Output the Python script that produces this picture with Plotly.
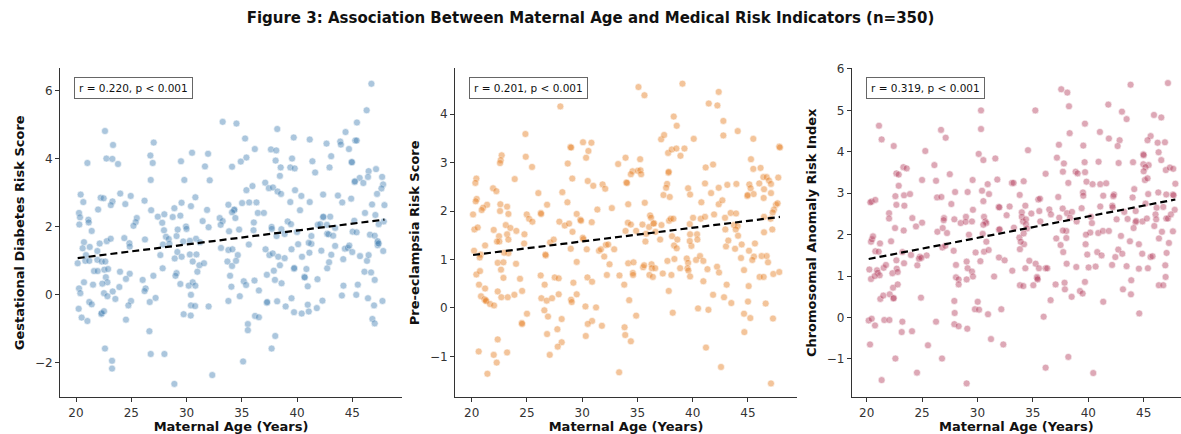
import numpy as np
import plotly.graph_objects as go

# ---------------- data ----------------
age_gdm = [22.62,27.03,23.35,22.75,23.29,21.03,23.80,26.73,26.94,26.76,29.50,30.50,31.95,31.67,29.80,32.10,
 20.42,20.66,22.23,22.50,23.30,23.15,24.00,24.46,24.95,26.20,26.80,27.40,27.99,27.80,28.90,29.55,30.40,30.80,31.86,
 20.27,20.36,20.30,21.12,21.15,21.42,22.00,25.50,25.40,25.20,28.75,29.44,27.96,28.14,29.10,29.20,29.95,30.00,31.46,32.00,30.86,30.30,
 20.72,20.60,21.24,22.14,22.78,23.14,24.37,24.83,24.86,26.24,27.87,28.39,28.45,29.70,31.22,21.93,27.63,29.17,30.30,30.90,20.90,
 20.15,20.84,21.20,21.93,22.32,22.65,28.93,29.56,30.56,31.16,31.58,30.98,27.84,21.63,21.96,22.56,22.90,22.70,22.84,22.38,20.72,21.54,
 23.98,24.86,24.52,23.92,23.32,22.53,22.84,23.56,20.27,20.39,20.24,20.51,21.03,21.20,21.42,22.29,22.32,22.53,27.00,26.03,26.30,26.20,
 27.20,26.67,24.98,24.74,24.52,26.64,26.76,28.00,22.62,23.26,23.26,28.90,29.10,29.00,29.44,30.20,30.56,30.80,30.40,30.40,30.78,29.74,30.38,32.00,
 33.12,33.79,34.15,34.64,33.70,34.12,34.48,33.94,34.06,33.79,34.82,35.18,35.39,36.15,36.55,36.20,36.55,35.55,35.55,35.12,32.33,35.64,
 37.15,37.50,37.80,38.30,38.88,39.50,40.10,40.45,41.12,41.30,42.20,43.10,43.45,44.18,44.33,44.60,44.73,45.00,45.70,46.33,46.48,47.30,47.30,
 37.27,37.90,38.45,38.00,38.60,37.27,37.30,38.20,38.97,39.50,39.73,40.42,41.06,40.97,41.79,42.30,39.73,39.75,40.67,40.70,40.85,40.97,41.85,
 42.73,42.90,44.20,44.06,45.50,45.36,46.10,46.70,47.03,46.42,46.97,47.73,46.82,47.03,38.03,37.70,
 46.73,46.30,33.27,34.52,45.42,38.21,44.39,35.30,39.70,41.15,42.67,43.91,43.97,45.27,45.40,44.70,36.18,37.64,38.12,35.42,34.91,34.12,
 38.06,39.55,41.39,43.09,44.94,44.97,38.52,39.39,39.79,42.94,41.64,38.45,46.48,47.15,45.67,45.21,45.24,46.00,46.42,47.70,47.79,47.64,
 37.12,37.45,37.82,38.24,38.55,35.97,35.42,39.82,40.39,42.36,43.70,44.09,44.90,47.24,47.91,46.79,39.39,41.15,40.27,33.79,35.03,35.67,
 36.33,34.30,34.33,34.12,34.42,36.45,37.00,46.15,47.09,47.85,47.39,33.00,33.27,33.09,36.09,39.15,39.45,42.36,42.38,43.00,45.18,41.88,
 42.10,42.70,43.45,37.70,37.72,33.85,34.76,36.06,38.58,40.00,41.30,42.73,42.85,43.27,45.03,45.39,46.60,47.03,47.30,47.39,38.15,38.88,
 41.06,47.80]
score_gdm = [4.81,4.47,4.40,4.00,3.99,3.87,3.84,4.09,3.87,3.37,3.92,4.17,4.14,3.77,3.37,3.36,
 2.94,2.72,2.85,2.83,2.74,2.63,2.97,2.66,2.90,2.76,2.48,2.29,2.36,2.11,2.54,2.70,2.60,2.86,2.49,
 2.40,2.27,2.06,2.20,2.12,1.87,2.50,2.25,2.13,2.02,2.28,2.32,1.89,1.70,1.72,1.91,2.00,1.93,2.16,1.98,1.64,1.58,
 1.54,1.36,1.40,1.50,1.57,1.64,1.66,1.51,1.41,1.62,1.47,1.63,1.49,1.56,1.54,1.28,1.16,1.25,1.18,1.18,1.16,
 0.92,0.99,0.99,1.02,0.97,0.97,1.06,1.11,0.97,0.86,0.92,0.67,0.77,0.69,0.69,0.73,0.75,0.51,0.36,0.32,0.36,0.29,
 0.67,0.61,0.46,0.22,0.09,0.04,-0.05,-0.13,0.18,0.04,-0.42,-0.68,-0.78,-0.22,-0.29,-0.57,-0.55,-0.49,0.55,0.43,0.18,0.10,
 -0.10,-0.22,-0.19,-0.32,-0.74,-1.08,-1.75,-1.75,-1.59,-1.95,-2.18,-2.63,0.63,0.55,0.31,0.26,0.36,0.26,-0.01,-0.32,-0.34,-0.58,-0.62,-0.35,
 1.37,1.31,1.33,1.16,0.97,0.84,0.99,0.55,0.23,-0.19,-0.05,0.39,0.28,0.41,0.12,-0.63,-0.67,-0.87,-1.05,-1.97,-2.37,1.47,
 1.33,1.16,1.21,1.11,1.07,1.33,1.48,1.11,1.23,1.49,1.29,1.17,1.43,1.04,1.35,1.37,1.44,1.25,1.13,0.99,1.16,1.45,1.52,
 0.58,0.70,0.86,0.43,0.33,-0.24,-0.22,-0.20,-0.35,-0.11,-0.52,-0.56,-0.50,-0.30,-0.40,-0.18,0.76,0.78,0.52,0.50,0.75,0.24,0.45,
 0.77,0.95,0.26,-0.03,0.29,-0.01,0.67,0.65,0.43,-0.11,-0.32,-0.19,-0.72,-0.85,-1.22,-1.59,
 6.20,5.42,5.08,5.03,5.06,4.87,4.78,4.59,4.62,4.56,4.44,4.50,4.41,4.53,4.53,4.28,4.28,4.27,4.24,4.03,3.91,3.76,
 3.94,4.00,3.92,4.07,3.90,3.89,3.74,3.74,3.71,3.74,3.59,3.49,3.63,3.69,3.43,3.31,3.33,3.28,3.46,3.46,3.24,3.12,
 3.29,3.13,3.15,3.03,2.96,3.19,3.07,3.07,2.90,2.94,2.91,2.71,2.82,2.96,2.63,2.65,2.72,2.72,2.48,2.64,2.69,2.71,
 2.71,2.48,2.50,2.42,2.25,2.40,2.40,2.40,2.34,2.15,2.07,2.25,2.16,2.05,2.12,2.15,2.07,2.27,2.29,2.29,2.17,2.05,
 2.07,2.05,1.96,1.99,1.93,1.86,1.91,1.89,1.92,1.84,1.72,1.79,1.77,1.73,1.85,1.83,1.76,1.73,1.57,1.50,1.72,1.78,
 1.52,1.28]

age_pe = [28.02,24.86,30.07,30.83,28.93,29.00,30.56,30.35,22.71,22.62,22.56,24.89,25.46,28.69,20.42,20.33,23.89,29.10,30.50,31.00,
 21.93,22.23,28.20,26.03,20.45,20.36,21.39,21.03,20.90,22.59,23.20,26.82,28.66,31.37,20.12,22.56,23.32,24.98,25.19,25.49,26.25,26.28,
 29.50,29.83,30.86,20.24,20.54,21.99,22.47,22.50,23.08,23.50,23.20,24.04,24.77,24.74,23.32,22.29,21.21,20.21,27.09,27.93,28.42,28.81,
 29.12,29.89,30.05,30.10,28.96,30.41,31.52,26.70,27.42,20.81,
 20.72,22.35,22.87,22.65,22.87,23.32,22.93,22.35,22.68,23.26,23.86,24.01,24.37,24.56,20.42,20.75,20.66,21.21,20.84,21.15,21.27,21.30,
 21.66,22.02,25.00,24.53,24.56,22.35,20.63,21.99,22.26,21.42,23.20,26.24,26.60,26.67,27.51,27.87,26.30,26.79,27.27,27.87,26.57,26.90,
 28.14,27.75,26.82,28.14,27.78,27.06,29.50,29.20,29.50,28.99,29.05,30.29,30.47,30.89,31.25,30.89,30.50,30.32,
 31.78,31.69,31.99,32.23,32.47,32.89,33.37,33.80,34.25,34.16,34.64,34.58,34.60,34.88,33.83,33.89,34.40,33.34,35.51,35.60,36.08,36.27,
 36.30,36.39,36.60,37.29,37.71,38.07,37.83,38.19,38.34,38.31,38.55,38.86,39.46,39.58,39.52,39.61,39.76,39.88,40.30,40.66,40.96,41.33,
 40.96,40.48,41.42,41.20,42.56,41.84,42.20,42.38,43.07,42.83,43.49,43.01,43.83,44.37,44.64,45.09,45.54,45.39,45.06,45.00,44.64,45.21,
 44.67,46.05,46.42,46.23,46.69,46.81,47.29,47.83,46.60,47.26,47.08,45.63,44.43,
 35.09,35.63,39.07,42.35,41.45,42.23,38.28,38.55,42.77,42.77,44.07,37.14,37.41,40.09,45.48,37.77,38.10,38.52,39.25,38.89,47.83,47.89,
 33.92,35.24,33.25,34.55,34.40,35.03,35.27,35.33,37.80,37.83,41.17,41.84,45.27,45.48,46.14,46.39,46.69,46.90,47.08,47.74,33.99,34.05,
 31.84,32.08,37.68,37.59,37.35,37.92,39.58,39.76,41.11,41.66,42.35,43.13,43.95,45.12,45.24,45.51,44.94,44.97,46.02,46.45,46.42,47.08,
 47.53,47.68,47.35,47.23,34.16,35.66,32.68,40.78,42.35,42.68,36.14,36.23,36.50,37.86,38.01,38.25,40.03,40.72,41.11,41.93,42.92,43.43,
 43.92,46.45,47.05,34.13,34.40,35.45,36.05,36.45,37.17,39.73,42.95,43.73,44.07,33.92,34.88,35.78,36.63,39.76,40.39,43.89,44.10,46.45,
 47.20,35.72,37.05,38.13,38.61,39.73,40.42,43.22,32.14,32.35]
score_pe = [4.16,3.59,3.42,3.41,3.32,3.31,3.24,3.10,3.15,3.05,2.99,3.12,2.91,2.98,2.67,2.58,2.66,2.67,2.62,2.52,
 2.47,2.41,2.39,2.37,2.25,2.20,2.13,2.07,2.02,2.14,2.09,2.13,2.18,2.03,1.93,2.00,1.94,1.93,1.84,1.78,1.96,1.94,
 1.94,1.82,1.77,1.62,1.66,1.61,1.48,1.37,1.71,1.65,1.52,1.59,1.52,1.33,1.41,1.37,1.29,1.18,1.35,1.78,1.70,1.74,
 1.57,1.80,1.45,1.42,1.22,1.21,1.18,1.08,1.41,1.10,
 1.04,0.93,0.94,0.79,0.62,1.13,1.14,0.34,0.22,0.22,0.27,0.91,0.60,0.35,0.69,0.76,0.48,0.40,0.24,0.18,0.16,0.14,
 0.08,0.05,-0.12,-0.31,-0.33,-0.65,-0.90,-0.97,-1.13,-1.36,-0.92,0.67,0.48,1.10,0.63,0.61,0.20,0.15,0.20,0.28,-0.05,-0.18,
 -0.23,-0.44,-0.54,-0.71,-0.80,-0.97,0.95,0.52,0.28,0.17,0.12,0.03,0.63,0.54,0.01,-0.27,-0.33,-0.58,
 -0.37,1.21,1.06,0.68,0.90,1.21,0.67,0.48,0.16,0.92,0.94,0.72,0.68,-0.16,-0.40,-0.56,-0.69,-1.33,0.84,0.88,0.68,0.90,
 0.82,0.64,0.82,0.71,0.97,0.68,0.35,-0.10,1.01,1.29,1.23,0.82,1.02,0.93,0.82,0.77,0.65,1.28,0.99,1.07,0.97,0.80,
 0.55,-0.01,-0.04,-0.82,-1.22,0.27,0.85,0.73,0.48,0.22,0.10,1.27,1.22,1.03,0.78,1.18,1.06,0.99,0.45,0.13,-0.12,-0.21,
 -0.50,0.64,0.64,1.07,1.07,0.94,0.70,0.74,0.09,-0.22,-1.56,1.33,1.31,
 4.56,4.39,4.63,4.46,4.22,4.18,3.95,3.76,3.86,3.56,3.65,3.48,3.57,3.49,3.49,3.20,3.27,3.29,3.29,3.14,3.33,3.31,
 3.10,3.07,2.97,2.82,2.76,2.83,2.84,2.76,2.79,2.81,2.90,2.96,3.07,2.87,2.89,2.70,2.70,2.63,2.56,2.69,2.59,2.58,
 2.55,2.46,2.56,2.48,2.33,2.29,2.47,2.34,2.57,2.37,2.48,2.54,2.56,2.55,2.47,2.35,2.31,2.33,2.57,2.45,2.27,2.37,
 2.13,2.16,2.03,1.97,2.14,2.17,2.06,2.18,2.14,2.22,1.91,1.86,1.75,1.80,1.84,1.84,1.86,1.84,1.88,1.93,1.86,1.96,
 1.95,1.88,1.84,1.76,1.72,1.72,1.67,1.74,1.71,1.73,1.62,1.71,1.69,1.59,1.59,1.53,1.57,1.52,1.52,1.62,1.49,1.56,
 1.62,1.37,1.41,1.48,1.41,1.38,1.41,1.39,1.30,1.31]

age_chr = [30.32,30.32,21.11,21.35,26.71,27.13,22.44,25.29,30.11,30.53,31.61,26.11,23.31,23.61,22.68,22.89,27.50,22.89,25.00,26.26,
 29.56,30.92,31.79,27.98,29.11,30.41,31.04,20.45,20.33,20.78,22.59,23.37,23.91,22.68,23.40,26.35,26.74,27.64,30.53,31.91,22.02,22.02,
 24.12,26.98,26.95,25.00,27.91,28.96,28.48,28.93,29.50,29.59,30.59,30.71,30.80,30.53,22.56,23.34,24.45,26.38,27.25,26.86,29.23,30.47,
 31.94,20.39,20.48,20.57,21.20,22.20,20.78,21.08,26.83,27.10,27.85,29.83,30.59,30.80,31.01,24.00,24.81,25.41,
 20.24,20.39,20.93,21.00,21.17,20.72,21.53,21.74,22.32,22.71,22.80,22.68,23.37,23.22,24.57,24.72,24.93,22.38,22.80,21.23,21.50,22.08,
 22.41,22.44,24.90,20.18,20.45,20.75,21.59,22.05,23.22,23.16,24.09,26.26,20.30,25.53,22.59,26.80,24.54,21.35,29.02,28.06,28.06,28.30,
 28.30,29.02,29.11,29.50,29.02,29.59,30.26,27.91,30.02,29.77,30.14,27.94,30.95,32.15,27.91,28.30,29.08,31.22,32.33,31.50,31.94,32.45,
 33.14,33.83,34.14,34.32,34.68,35.04,35.25,35.37,35.40,35.43,35.55,36.15,36.30,36.60,35.97,36.15,37.05,37.86,37.89,38.05,38.92,38.50,
 39.25,39.49,39.70,39.91,40.03,40.66,40.81,41.20,41.35,40.45,38.20,42.15,42.44,42.71,43.07,43.13,43.46,43.88,43.85,44.57,44.60,44.87,
 45.38,45.62,46.37,46.77,46.95,46.98,47.07,47.28,44.57,33.83,34.20,37.50,37.74,
 47.19,43.82,37.56,38.11,41.81,43.04,35.22,38.26,43.46,45.93,46.59,39.70,38.32,41.05,41.86,42.83,42.65,45.63,45.35,46.26,46.92,37.35,
 39.55,34.56,37.17,37.80,39.67,40.93,42.74,44.04,44.97,45.00,44.97,45.45,45.17,46.35,46.59,47.00,47.37,47.67,45.00,36.15,37.71,38.86,
 39.04,39.71,33.11,33.26,34.17,38.20,39.84,40.39,41.08,41.62,45.11,45.35,47.86,33.81,35.49,35.64,37.29,39.52,39.55,41.35,42.32,42.26,
 44.00,44.15,45.41,46.32,47.04,47.64,47.70,31.98,32.90,34.32,34.00,35.58,36.48,37.69,39.40,41.08,42.17,42.20,43.25,44.28,45.17,46.17,
 46.77,47.80,32.63,34.00,34.86,36.63,38.08,38.53,34.11,34.38,34.38,35.67,37.38,38.35,38.95,40.24,40.33,42.56,43.55,44.27,44.32,44.89,
 45.29,46.07,46.13,47.04,47.19,47.46,32.00,33.29,34.47,38.02,37.71,40.18,40.90,41.32,41.86,42.95,44.09,45.96,46.65,47.64,33.78,34.17,
 33.90,37.11,38.02,39.79,39.76,43.76,46.38,45.80]
score_chr = [5.00,4.55,4.63,4.30,4.53,4.34,4.14,4.02,3.95,3.80,3.84,3.68,3.63,3.60,3.48,3.45,3.46,3.18,3.32,3.30,
 3.32,3.22,3.33,3.03,3.03,3.06,2.98,2.80,2.78,2.84,2.93,2.95,2.98,2.72,2.70,2.90,2.91,2.74,2.81,2.67,2.52,2.39,
 2.40,2.40,2.35,2.29,2.37,2.43,2.28,2.31,2.32,2.60,2.43,2.32,2.28,2.24,2.16,2.10,2.20,2.07,2.04,2.16,2.00,2.02,
 2.12,1.83,1.89,1.96,1.79,1.84,1.60,1.59,1.69,1.73,1.61,1.57,1.59,1.83,1.63,1.51,1.47,1.50,
 1.16,0.93,1.14,1.08,1.02,1.00,1.20,1.27,1.07,1.18,1.10,1.38,1.31,1.58,1.26,1.42,1.44,0.72,0.80,0.45,0.53,0.56,
 0.46,0.47,0.48,-0.07,-0.03,-0.19,-0.06,-0.06,-0.10,-0.35,-0.33,-0.10,-0.65,-0.67,-0.99,-0.99,-1.33,-1.51,-1.59,1.27,0.97,0.92,
 0.80,1.35,1.19,1.11,0.92,0.99,1.36,0.40,0.38,0.20,0.19,0.11,0.08,0.20,-0.16,-0.21,-0.27,-0.52,-0.65,0.99,1.45,1.38,
 1.13,0.78,0.76,1.19,1.37,0.78,1.30,0.98,0.95,0.92,1.19,1.19,1.19,0.42,0.02,-1.21,0.80,0.84,0.68,1.30,1.22,0.50,
 0.64,0.58,0.86,1.52,1.21,1.23,1.58,1.50,0.38,-1.34,-0.95,1.27,1.46,1.64,1.54,0.68,1.24,0.90,0.56,1.18,0.10,1.54,
 1.19,1.46,0.78,0.78,1.26,0.98,1.56,1.80,1.77,1.65,1.77,1.75,1.58,
 5.66,5.62,5.51,5.43,5.14,4.97,5.00,5.10,4.79,4.89,4.83,4.68,4.45,4.48,4.32,4.28,4.14,4.38,4.28,4.22,4.23,4.17,
 4.15,4.04,3.86,3.72,3.75,3.76,3.73,3.75,3.94,3.92,3.70,3.68,3.63,3.99,3.80,3.56,3.62,3.59,3.53,3.47,3.52,3.52,
 3.48,3.51,3.25,3.25,3.29,3.25,3.28,3.22,3.22,3.24,3.32,3.36,3.23,2.96,2.85,2.87,2.91,3.02,2.94,2.94,2.97,2.93,
 2.90,3.10,2.98,3.02,2.97,2.97,2.95,2.66,2.68,2.70,2.54,2.57,2.61,2.63,2.64,2.68,2.70,2.66,2.55,2.57,2.75,2.65,
 2.67,2.60,2.47,2.43,2.51,2.49,2.52,2.55,2.32,2.37,2.25,2.32,2.41,2.41,2.32,2.43,2.28,2.37,2.38,2.30,2.33,2.32,
 2.39,2.49,2.37,2.39,2.39,2.49,2.13,2.17,2.15,2.09,2.10,2.05,2.04,2.09,2.09,1.97,2.16,2.21,2.07,2.08,1.93,2.03,
 1.83,1.91,1.92,2.00,1.77,1.84,1.91,1.48]

titles_y = ["Gestational Diabetes Risk Score", "Pre-eclampsia Risk Score", "Chromosomal Anomaly Risk Index"]
stat_labels = ["r = 0.220, p < 0.001", "r = 0.201, p < 0.001", "r = 0.319, p < 0.001"]
colors = ["#4682B4", "#E67E22", "#B5405F"]
x_ticks = [20, 25, 30, 35, 40, 45]
y_ticks = [[-2, 0, 2, 4, 6], [-1, 0, 1, 2, 3, 4], [-1, 0, 1, 2, 3, 4, 5, 6]]
y_ranges = [[-3.03, 6.66], [-1.85, 4.95], [-1.93, 6.02]]
x_ranges = [[18.55, 49.5], [18.49, 49.44], [18.65, 48.37]]
x_domains = [[0.0508, 0.3404], [0.3853, 0.6749], [0.7212, 1.0]]

series = [(age_gdm, score_gdm), (age_pe, score_pe), (age_chr, score_chr)]

FONT = "DejaVu Sans"
fig = go.Figure()

for i, (ax_vals, ay_vals) in enumerate(series):
    n = "" if i == 0 else str(i + 1)
    xa, ya = "x" + n, "y" + n
    xs = np.array(ax_vals)
    ys = np.array(ay_vals)
    fig.add_trace(go.Scatter(
        x=xs, y=ys, mode="markers", xaxis=xa, yaxis=ya, showlegend=False,
        marker=dict(size=7, color=colors[i], opacity=0.45,
                    line=dict(width=0.6, color="white")),
        hoverinfo="skip"))
    slope, icpt = np.polyfit(xs, ys, 1)
    lx = np.array([xs.min(), xs.max()])
    fig.add_trace(go.Scatter(
        x=lx, y=slope * lx + icpt, mode="lines", xaxis=xa, yaxis=ya, showlegend=False,
        line=dict(color="black", width=2.2, dash="7px,4px"), hoverinfo="skip"))

    axis_common = dict(showline=True, linecolor="#333333", linewidth=1, ticks="outside",
                       ticklen=4, tickcolor="#333333", showgrid=False, zeroline=False,
                       tickfont=dict(family=FONT, size=12, color="#333333"))
    fig.update_layout(**{
        ("xaxis" + n): dict(domain=x_domains[i], range=x_ranges[i], tickvals=x_ticks,
                            anchor=ya,
                            title=dict(text="Maternal Age (Years)", standoff=3,
                                       font=dict(family=FONT, size=13, color="#111111", weight="bold")),
                            **axis_common),
        ("yaxis" + n): dict(domain=[0.0853, 0.8548], range=y_ranges[i], tickvals=y_ticks[i],
                            anchor=xa,
                            title=dict(text=titles_y[i], standoff=7,
                                       font=dict(family=FONT, size=13, color="#111111", weight="bold")),
                            **axis_common),
    })
    fig.add_annotation(xref=xa + " domain", yref=ya + " domain", x=0.042, y=0.972,
                       xanchor="left", yanchor="top", showarrow=False,
                       text=stat_labels[i], font=dict(family=FONT, size=10.5, color="#111111"),
                       bgcolor="white", bordercolor="#666666", borderwidth=1, borderpad=4)

fig.update_layout(
    width=1181, height=434,
    margin=dict(l=0, r=0, t=0, b=0),
    paper_bgcolor="white", plot_bgcolor="white",
    title=dict(text="Figure 3: Association Between Maternal Age and Medical Risk Indicators (n=350)",
               x=0.5, xanchor="center", y=0.958, yanchor="middle",
               font=dict(family=FONT, size=15, color="#111111", weight="bold")),
)

fig.write_html("out.html", config={"displayModeBar": False},
               post_script="document.body.style.margin='0px';")
